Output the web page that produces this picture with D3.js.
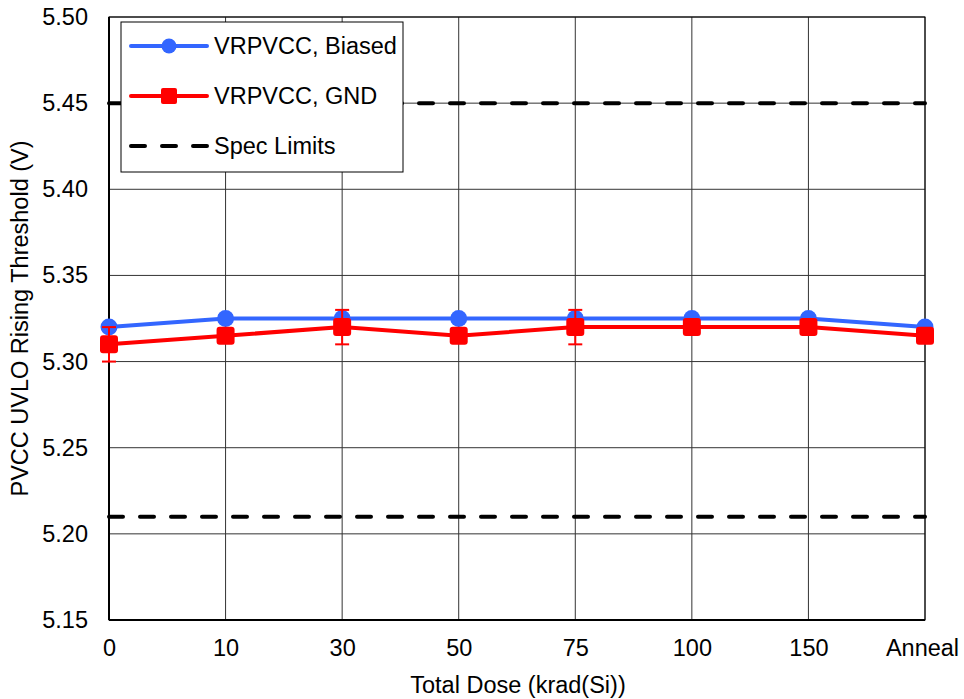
<!DOCTYPE html>
<html><head><meta charset="utf-8">
<script src="https://cdn.jsdelivr.net/npm/d3@7"></script>
<style>body{margin:0;background:#fff}svg{display:block}text{font-family:"Liberation Sans",Arial,sans-serif}</style>
</head><body><svg id="c" width="964" height="699"></svg>
<script>
const categories = ["0","10","30","50","75","100","150","Anneal"];
const biased = [5.320,5.325,5.325,5.325,5.325,5.325,5.325,5.320];
const biasedErr = [0.002,0.002,0.002,0.002,0.002,0.002,0.002,0.002];
const gnd = [5.310,5.315,5.320,5.315,5.320,5.320,5.320,5.315];
const gndErr = [0.010,0.003,0.010,0.003,0.010,0.003,0.003,0.003];
const specLimits = [5.45,5.21];
const yTicks = [5.15,5.20,5.25,5.30,5.35,5.40,5.45,5.50];
const legendLabels = ["VRPVCC, Biased","VRPVCC, GND","Spec Limits"];

const FS = 23.5;
const svg = d3.select("#c");
const L=109,R=925,T=17,B=620;
const x = d3.scalePoint().domain(categories).range([L,R]).padding(0);
const y = d3.scaleLinear().domain([5.15,5.50]).range([B,T]);
const BLUE="#3366ff", RED="#ff0000";

// grid
svg.append("g").selectAll("line").data(yTicks).join("line")
  .attr("x1",L).attr("x2",R).attr("y1",d=>y(d)).attr("y2",d=>y(d))
  .attr("stroke","#333").attr("stroke-width",1);
svg.append("g").selectAll("line").data(categories).join("line")
  .attr("x1",d=>x(d)).attr("x2",d=>x(d)).attr("y1",T).attr("y2",B)
  .attr("stroke","#333").attr("stroke-width",1);
// frame
svg.append("rect").attr("x",L).attr("y",T).attr("width",R-L).attr("height",B-T)
  .attr("fill","none").attr("stroke","#000").attr("stroke-width",1);
svg.append("line").attr("x1",L).attr("x2",L).attr("y1",T).attr("y2",B).attr("stroke","#000").attr("stroke-width",2);
svg.append("line").attr("x1",L).attr("x2",R).attr("y1",B).attr("y2",B).attr("stroke","#000").attr("stroke-width",2);

// axes
const ya = svg.append("g").attr("transform",`translate(${L},0)`)
  .call(d3.axisLeft(y).tickValues(yTicks).tickFormat(d3.format(".2f")).tickSize(0).tickPadding(21));
ya.select(".domain").remove();
ya.selectAll("text").attr("font-size",FS).attr("fill","#000").attr("font-family","Liberation Sans, Arial, sans-serif");
const xa = svg.append("g").attr("transform",`translate(0,${B})`)
  .call(d3.axisBottom(x).tickSize(0).tickPadding(19));
xa.select(".domain").remove();
xa.selectAll("text").attr("font-size",FS).attr("fill","#000").attr("font-family","Liberation Sans, Arial, sans-serif");
xa.selectAll(".tick").filter(d=>d==="Anneal").select("text").attr("dx",-3);

svg.append("text").attr("x",518).attr("y",693).attr("text-anchor","middle")
  .attr("font-size",FS).text("Total Dose (krad(Si))");
svg.append("text").attr("transform",`translate(28,${(T+B)/2}) rotate(-90)`).attr("text-anchor","middle")
  .attr("font-size",FS).text("PVCC UVLO Rising Threshold (V)");

// spec limits
svg.append("g").selectAll("line").data(specLimits).join("line")
  .attr("x1",L).attr("x2",R).attr("y1",d=>y(d)).attr("y2",d=>y(d))
  .attr("stroke","#000").attr("stroke-width",4).attr("stroke-dasharray","14,17").attr("stroke-linecap","round");

function series(vals, errs, color, shape){
  const g = svg.append("g");
  const pts = categories.map((c,i)=>({c,v:vals[i],e:errs[i]}));
  const eb = g.append("g").attr("stroke",color).attr("stroke-width",2);
  pts.forEach(p=>{
    eb.append("line").attr("x1",x(p.c)).attr("x2",x(p.c)).attr("y1",y(p.v-p.e)).attr("y2",y(p.v+p.e));
    [p.v-p.e,p.v+p.e].forEach(v=>eb.append("line").attr("x1",x(p.c)-7).attr("x2",x(p.c)+7).attr("y1",y(v)).attr("y2",y(v)));
  });
  g.append("path").datum(pts).attr("fill","none").attr("stroke",color).attr("stroke-width",4)
    .attr("d",d3.line().x(d=>x(d.c)).y(d=>y(d.v)));
  if(shape==="circle"){
    g.selectAll("circle").data(pts).join("circle").attr("cx",d=>x(d.c)).attr("cy",d=>y(d.v)).attr("r",8.5).attr("fill",color);
  } else {
    g.selectAll("rect").data(pts).join("rect").attr("x",d=>x(d.c)-9).attr("y",d=>y(d.v)-9)
      .attr("width",18).attr("height",18).attr("rx",3).attr("fill",color);
  }
}
series(biased,biasedErr,BLUE,"circle");
series(gnd,gndErr,RED,"square");

// legend
const lg = svg.append("g");
lg.append("rect").attr("x",121).attr("y",22).attr("width",282).attr("height",150)
  .attr("fill","#fff").attr("stroke","#000").attr("stroke-width",1);
const rows=[46,96,146];
lg.append("line").attr("x1",131).attr("x2",207).attr("y1",rows[0]).attr("y2",rows[0]).attr("stroke",BLUE).attr("stroke-width",4).attr("stroke-linecap","round");
lg.append("circle").attr("cx",169).attr("cy",rows[0]).attr("r",7.5).attr("fill",BLUE);
lg.append("line").attr("x1",131).attr("x2",207).attr("y1",rows[1]).attr("y2",rows[1]).attr("stroke",RED).attr("stroke-width",4).attr("stroke-linecap","round");
lg.append("rect").attr("x",161).attr("y",rows[1]-8).attr("width",16).attr("height",16).attr("rx",2).attr("fill",RED);
lg.append("line").attr("x1",131).attr("x2",207).attr("y1",rows[2]).attr("y2",rows[2]).attr("stroke","#000").attr("stroke-width",4).attr("stroke-dasharray","14,17").attr("stroke-linecap","round");
lg.selectAll("text.l").data(legendLabels).join("text").attr("class","l")
  .attr("x",214).attr("y",(d,i)=>rows[i]+8).attr("font-size",FS).text(d=>d);
</script></body></html>
